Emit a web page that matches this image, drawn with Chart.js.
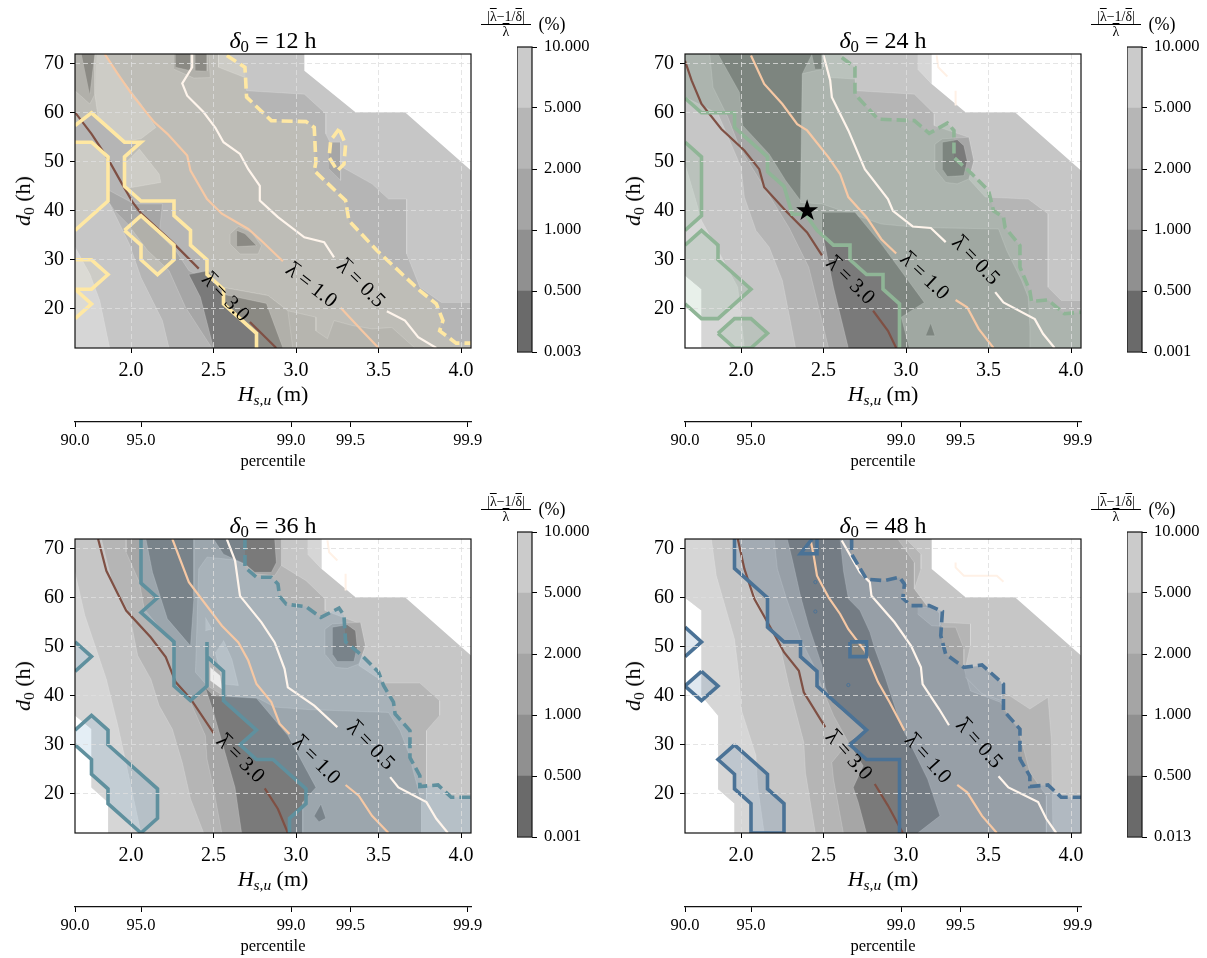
<!DOCTYPE html>
<html lang="en">
<head>
<meta charset="utf-8" />
<title>Contours of lambda error</title>
<script src="https://cdn.jsdelivr.net/npm/chart.js@4/dist/chart.umd.js"></script>
<style type="text/css">
  body { margin: 0; background: #fff; font-family: "Liberation Serif", serif; color: #000; }
  #page { position: relative; width: 1207px; height: 958px; overflow: hidden; }
  canvas { position: absolute; }
  .txt { position: absolute; white-space: nowrap; transform: translate(-50%, -50%); line-height: 1; }
  .rot { transform: translate(-50%, -50%) rotate(-90deg); }
  .txt sub { font-size: 70%; line-height: 0; vertical-align: -0.25em; }
  .frac { position: absolute; width: 50px; text-align: center; font-size: 14px; line-height: 14px; }
  .frac div:first-child { border-bottom: 1px solid #000; }
  .bar { text-decoration: overline; }
</style>
</head>
<body>
<div id="page"></div>

<script>
// ---- axes and labels ----
const xTicks = [2.0, 2.5, 3.0, 3.5, 4.0];
const yTicks = [20, 30, 40, 50, 60, 70];
const pctPositions = [1.66, 2.06, 2.97, 3.33, 4.04];
const pctLabels = ['90.0', '95.0', '99.0', '99.5', '99.9'];
const deltaLabels = ['12', '24', '36', '48'];
const lamLabels = ['3.0', '1.0', '0.5'];

const cbA = ['0.003', '0.500', '1.000', '2.000', '5.000', '10.000'];
const cbB = ['0.001', '0.500', '1.000', '2.000', '5.000', '10.000'];
const cbC = ['0.001', '0.500', '1.000', '2.000', '5.000', '10.000'];
const cbD = ['0.013', '0.500', '1.000', '2.000', '5.000', '10.000'];

// ---- delta0 = 12 h ----
const domainA = [[1.66,12],[1.66,72],[3.05,72],[3.05,68.6],[3.36,60.1],[3.66,60.1],[4.06,48.2],[4.06,12]];
const g0A = [[[1.66,32.6],[1.75,27.1],[1.81,21.7],[1.87,12],[1.66,12]]];
const g2A = [[[1.66,72],[2.53,72],[2.53,69.3],[2.69,67.2],[2.70,64.5],[3.05,63.8],[3.18,59.8],[3.18,55.7],[3.28,48.9],[3.46,45.5],[3.56,42.4],[3.67,42.4],[3.67,31.2],[3.75,24.4],[3.88,21.3],[4.06,21.3],[4.06,12],[2.23,12],[2.19,17.6],[2.06,26.4],[1.99,33.2],[1.90,39.4],[1.86,42.1],[1.66,36],[1.66,72]]];
const softA = [[[2.55,24.4],[2.83,22.7],[2.95,19.6],[3.12,18.3],[3.12,15.5],[3.19,13.9],[3.23,17.6],[3.34,16.6],[3.46,15.9],[3.58,16.2],[3.72,12],[2.90,12]]];
const g3A = [
  [[1.80,45.1],[1.87,44.1],[2.02,41.4],[2.19,41.4],[2.17,35.3],[2.27,31.9],[2.35,27.8],[2.55,24.4],[2.83,22.7],[2.95,19.6],[2.98,12],[2.49,12],[2.33,20.3],[2.23,27.8],[2.10,31.9],[1.98,37.3],[1.90,40],[1.80,45.1]],
  [[2.26,72],[2.47,72],[2.48,67.2],[2.38,67.1],[2.26,68.9]],
  [[1.66,72],[1.78,72],[1.78,63.8],[1.75,61.8],[1.66,64.5]],
  [[2.60,35.3],[2.65,36.8],[2.73,35.6],[2.79,32.9],[2.77,31.2],[2.66,31.2],[2.60,33.2],[2.60,35.3]],
  [[3.20,54],[3.27,54],[3.27,46.2],[3.20,48.5]]
];
const g4A = [
  [[2.35,27],[2.47,27.8],[2.55,23],[2.82,21.1],[2.92,12],[2.50,12],[2.42,22.4],[2.35,27]],
  [[2.27,72],[2.36,72],[2.36,68.6],[2.27,69.3]],
  [[2.39,72],[2.46,72],[2.46,68.5],[2.39,68.6]],
  [[1.70,72],[1.78,72],[1.75,63.8]],
  [[2.64,36],[2.69,35.3],[2.76,32.9],[2.64,32.7],[2.64,36]]
];
const lightA = [
  [[1.79,72],[1.84,72],[1.92,67.9],[2.06,61.8],[2.15,57],[2.06,54.7],[1.96,54.2],[1.80,59.1],[1.78,63.8]],
  [[1.96,49.6],[2.05,52.6],[2.17,47.5],[2.18,45.8],[1.96,44.5]],
  [[1.66,54],[1.76,54],[1.86,51],[1.86,42],[1.66,36]]
];
const solidA = [[1.66,57.4],[1.76,60],[1.96,54],[2.06,54],[1.96,51],[1.96,45],[2.06,42],[2.26,42],[2.26,39],[2.36,36],[2.36,33],[2.46,30],[2.46,27],[2.56,24],[2.56,21],[2.76,15],[2.76,12]];
const dashA = [[2.58,71.7],[2.69,69.3],[2.70,63.2],[2.85,58.4],[3.06,58.2],[3.11,57],[3.12,49.9],[3.11,48.2],[3.30,42.1],[3.32,38],[3.49,31.9],[3.75,23.7],[3.85,21],[3.89,17.6],[3.87,15.5],[3.97,13],[4.06,13]];
const ringA = [[3.26,56.7],[3.21,54.4],[3.20,50.9],[3.25,48.2],[3.29,49.5],[3.30,53.6],[3.26,56.7]];
const islandsA = [
  [[1.66,54],[1.76,54],[1.86,51],[1.86,42],[1.66,36]],
  [[1.96,36],[2.06,39],[2.26,33],[2.26,30],[2.16,27],[2.06,30],[2.06,33],[1.96,36]],
  [[1.66,30],[1.76,30],[1.86,27],[1.76,24],[1.66,24]],
  [[1.66,24],[1.76,21],[1.66,18]]
];
const lam3A = [[[1.66,60.1],[1.76,55.7],[1.86,50.6],[1.94,45.8],[2.01,41.7],[2.06,39.5],[2.25,33.6],[2.41,28.2]], [[2.72,17.3],[2.88,12]]];
const lam1A = [[[1.84,72],[1.92,67.9],[2.01,63.5],[2.14,58.1],[2.22,55.7],[2.34,51.3],[2.36,48.2],[2.46,42.4],[2.55,39.4],[2.71,36.3],[2.79,33.9],[2.92,29.7]], [[3.27,20.2],[3.40,15.5],[3.50,12]]];
const lam05A = [[[2.37,72],[2.37,69.3],[2.31,66],[2.34,63.5],[2.44,60.1],[2.51,57],[2.56,54],[2.66,51.6],[2.71,48.5],[2.78,45.1],[2.78,42.1],[2.89,38.7],[3.05,34.6],[3.17,33.6],[3.23,30.5]], [[3.55,19.5],[3.66,17.6],[3.74,14.2],[3.85,12]]];
const labelsA = [[2.57,22.3],[3.09,24.7],[3.39,25.1]];
const anglesA = [46, 38, 45];

// ---- delta0 = 24 h ----
const domainB = [[1.66,72],[3.155,72],[3.155,65.9],[3.36,60.1],[3.66,60.1],[4.06,48.2],[4.06,12],[1.76,12],[1.76,24],[1.66,26.8]];
const g0B = [
  [[1.66,49.6],[1.72,42.8],[1.76,38],[1.86,31.9],[1.98,24.4],[2.02,12],[1.76,12],[1.76,24],[1.66,26.8]],
  [[3.07,72],[3.155,72],[3.155,65.9],[3.07,68.9]]
];
const g2B = [[[1.66,72],[2.50,72],[2.53,67.2],[2.69,66.9],[2.70,64.5],[3.05,63.8],[3.17,59.8],[3.17,57.4],[3.38,55],[3.41,50.2],[3.38,46.5],[3.48,42.8],[3.74,42.4],[3.86,39.4],[3.86,24.4],[3.94,21.7],[4.06,21.7],[4.06,12],[2.33,12],[2.29,19],[2.25,25.8],[2.17,32.6],[2.09,36],[2.02,42.8],[2.00,48.9],[1.86,59.8],[1.66,63.2],[1.66,72]]];
const g3B = [
  [[1.81,72],[1.83,65.2],[1.92,59.1],[1.99,53],[2.14,44.8],[2.29,36.6],[2.41,28.5],[2.47,20.3],[2.53,12],[3.75,12],[3.75,16.2],[3.74,22.4],[3.70,25.8],[3.61,31.9],[3.56,36.3],[3.07,36.6],[2.85,37.3],[2.55,40.7],[2.49,41.4],[2.36,41.7],[2.36,67.9],[2.49,68.9],[2.49,72]],
  [[3.175,53.6],[3.22,54.7],[3.38,55],[3.41,50.2],[3.38,46.5],[3.31,45.5],[3.24,45.8],[3.175,48.5],[3.175,53.6]]
];
const g4B = [
  [[1.86,72],[2.43,72],[2.37,67.9],[2.36,42.1],[2.27,46.2],[2.17,51.6],[2.01,57.4],[1.99,64.2],[1.86,72]],
  [[2.43,72],[2.49,72],[2.49,68.9],[2.45,68.9]],
  [[2.49,39.7],[2.69,39.7],[2.85,33.2],[3.11,21.3],[2.97,18.3],[3.02,12],[2.65,12],[2.56,24.4],[2.49,36],[2.49,39.7]],
  [[3.22,54],[3.31,54.5],[3.35,53.3],[3.37,50.2],[3.35,47.2],[3.25,47],[3.22,48.5],[3.22,54]],
  [[3.12,14.5],[3.175,14.5],[3.15,17]]
];
const solidB = [[1.66,63],[1.76,60],[1.96,60],[1.96,57],[2.16,51],[2.16,48],[2.26,45],[2.31,39.3],[2.39,39.3],[2.46,36],[2.56,33],[2.66,33],[2.66,30],[2.76,27],[2.86,27],[2.86,24],[2.96,21],[2.96,12]];
const dashB = [[2.61,71.3],[2.69,69.3],[2.69,63.8],[2.83,58.7],[3.05,58.4],[3.14,55.8],[3.25,57.9],[3.29,56.4],[3.29,50.9],[3.40,47.5],[3.50,44.1],[3.53,40],[3.59,38.7],[3.60,36.6],[3.69,32.9],[3.69,28.5],[3.75,23.7],[3.76,21.5],[3.86,21.8],[3.96,19],[4.06,19.3]];
const islandsB = [
  [[1.66,54],[1.76,51],[1.76,39],[1.66,36]],
  [[1.66,33],[1.76,36],[1.86,33],[1.86,30],[2.06,24],[1.86,18],[1.76,18],[1.66,21]],
  [[1.86,15],[1.96,18],[2.06,18],[2.16,15],[2.06,12],[1.96,12],[1.86,15]]
];
const lam3B = [[[1.66,70.6],[1.70,66.6],[1.76,61.8],[1.88,56.7],[2.02,52.3],[2.11,48.5],[2.14,44.8],[2.27,40],[2.40,35.6],[2.49,30.9]], [[2.80,19.6],[2.89,15.5],[2.94,12]]];
const lam1B = [[[2.06,71.7],[2.14,65.9],[2.25,61.8],[2.34,57.7],[2.40,56.4],[2.53,50.9],[2.60,47.5],[2.65,42.8],[2.76,38.7],[2.85,34.2],[2.94,31.3]], [[3.30,21.8],[3.37,20.3],[3.44,15.9],[3.53,12]]];
const lam05B = [[[2.50,71.7],[2.54,66.6],[2.55,63.2],[2.65,56.4],[2.75,48.5],[2.89,42.4],[2.92,40],[3.04,36.8],[3.15,36.5],[3.24,33.6]], [[3.54,23.4],[3.59,21.3],[3.78,17.9],[3.83,14.9],[3.90,12]]];
const ghostB = [[[3.185,71.7],[3.195,69.3],[3.25,67.4]], [[3.30,64.5],[3.30,61.5]]];
const labelsB = [[2.66,25.7],[3.11,26.6],[3.42,29.8]];
const anglesB = [44, 43, 46];
const starB = [2.4, 40];

// ---- delta0 = 36 h ----
const domainC = [[1.66,72],[3.155,72],[3.155,65.9],[3.36,60.1],[3.66,60.1],[4.06,48.2],[4.06,12],[1.86,12],[1.86,18.3],[1.76,21.3],[1.76,33.2],[1.66,36]];
const g0C = [
  [[1.66,65.2],[1.72,56.4],[1.85,43.4],[1.92,33.9],[1.99,23],[2.06,12],[1.86,12],[1.86,18.3],[1.76,21.3],[1.76,33.2],[1.66,36]],
  [[3.07,72],[3.155,72],[3.155,65.9],[3.07,68.9]]
];
const g2C = [[[1.82,72],[2.87,72],[2.91,66.6],[3.06,63.5],[3.175,59.8],[3.175,57.4],[3.39,54.7],[3.42,50.2],[3.38,46.2],[3.54,42.6],[3.75,42.6],[3.87,39],[3.87,36],[3.79,32.9],[3.79,19],[3.76,18.3],[3.76,12],[2.44,12],[2.36,19],[2.31,26.4],[2.25,33.2],[2.17,38],[2.12,43.4],[2.04,48.2],[1.99,56.7],[1.88,63.8],[1.82,72]]];
const g3C = [
  [[1.97,72],[1.97,69.3],[2.05,63.2],[2.08,57.7],[2.26,50.2],[2.27,42.8],[2.36,38.7],[2.45,31.9],[2.46,27.1],[2.50,21],[2.55,12],[3.76,12],[3.76,18.3],[3.68,28.5],[3.63,32.9],[3.56,36.6],[3.07,37.2],[2.87,37.7],[2.77,39.5],[2.56,40],[2.46,42.1],[2.39,44.8],[2.41,65.9],[2.46,68.3],[2.61,67.8],[2.69,66.9],[2.75,64.9],[2.87,64.5],[2.91,66.6],[2.91,72]],
  [[3.175,53.6],[3.22,54.7],[3.39,55],[3.42,50.2],[3.38,46.5],[3.31,45.6],[3.24,45.8],[3.175,48.5],[3.175,53.6]]
];
const g4C = [
  [[2.50,72],[2.87,72],[2.88,67.2],[2.85,65.2],[2.75,65.2],[2.69,66.9],[2.56,68.9],[2.50,72]],
  [[2.09,72],[2.38,72],[2.38,59.8],[2.36,50.2],[2.22,55.7],[2.13,65.2],[2.09,72]],
  [[2.45,41.7],[2.50,40],[2.76,39.5],[2.95,31.9],[3.12,21.3],[3.04,18.3],[3.04,12],[2.67,12],[2.63,21.3],[2.50,36.6],[2.45,41.7]],
  [[3.22,54],[3.31,54.5],[3.36,53.3],[3.37,49.9],[3.35,47],[3.25,47],[3.22,48.5],[3.22,54]],
  [[3.11,15.5],[3.15,17.9],[3.18,15],[3.14,14.3]]
];
const lightC = [
  [[2.56,51.3],[2.61,47.5],[2.65,42.1],[2.56,42.4],[2.51,48.9]],
  [[2.45,56],[2.49,53.6],[2.45,53.3]]
];
const paleC = [[[2.48,45.8],[2.54,44.1],[2.55,41.4],[2.48,43.1]]];
const solidC = [[2.06,72],[2.06,63],[2.16,60],[2.06,57],[2.26,51],[2.26,42],[2.36,39],[2.46,42],[2.46,51],[2.46,48],[2.56,45],[2.56,39],[2.76,33],[2.66,30],[2.76,27],[2.86,27],[3.06,21],[3.06,18],[2.96,15],[2.96,12]];
const dashC = [[2.69,72],[2.69,66.2],[2.76,64.2],[2.85,64.2],[2.89,62.8],[2.90,60.3],[2.94,58.7],[3.06,58.2],[3.15,56],[3.26,57.9],[3.29,56.4],[3.30,51],[3.40,48.2],[3.50,44.8],[3.53,42.1],[3.59,38.7],[3.60,36.3],[3.69,32.9],[3.69,27.4],[3.75,23.7],[3.75,21.5],[3.86,21.8],[3.94,19.3],[4.06,19.3]];
const islandsC = [
  [[1.66,51],[1.76,48],[1.66,45]],
  [[1.66,33],[1.76,36],[1.86,33],[1.86,30],[2.16,21],[2.16,15],[2.06,12],[1.86,18],[1.86,21],[1.76,24],[1.76,27],[1.66,30]]
];
const lam3C = [[[1.80,72],[1.85,65.5],[1.97,57.4],[2.12,51.9],[2.21,47.9],[2.27,42.8],[2.36,39.4],[2.50,32.4]], [[2.81,21.1],[2.89,16.9],[2.95,12]]];
const lam1C = [[[2.25,72],[2.35,63.2],[2.55,54.3],[2.65,50.9],[2.71,47.2],[2.76,42.4],[2.85,38.7],[2.90,34.3],[2.96,32.2]], [[3.30,21.8],[3.38,19.6],[3.46,15.5],[3.56,12]]];
const lam05C = [[[2.58,72],[2.63,67.6],[2.66,60.4],[2.79,55],[2.87,50.9],[2.93,45.5],[2.95,41.7],[3.11,38],[3.25,33.6]], [[3.57,23.4],[3.62,21.3],[3.79,18.3],[3.85,14.9],[3.92,12]]];
const ghostC = [[[3.19,71.7],[3.20,69.3],[3.25,67.6]], [[3.30,64.9],[3.30,61.5]]];
const labelsC = [[2.66,27.1],[3.12,26.8],[3.45,29.8]];
const anglesC = [45, 45, 46];

// ---- delta0 = 48 h ----
const domainD = [[1.66,72],[3.155,72],[3.155,65.9],[3.36,60.1],[3.66,60.1],[4.06,48.2],[4.06,12],[1.96,12],[1.96,18],[1.86,21],[1.86,36],[1.76,40],[1.76,57.4],[1.66,60]];
const g0D = [[[1.82,72],[1.85,64.5],[1.96,51.6],[1.99,43.4],[2.00,37.3],[2.09,27.8],[2.10,21.7],[2.14,12],[1.96,12],[1.96,18],[1.86,21],[1.86,36],[1.76,40],[1.76,57.4],[1.66,60],[1.66,72]]];
const g2D = [[[1.98,72],[3.0,72],[3.09,68.9],[3.09,65.9],[3.05,61.8],[3.205,55],[3.39,54.7],[3.39,50.2],[3.36,45.8],[3.61,40.4],[3.75,37.3],[3.86,39.7],[3.88,31.2],[3.89,12],[2.45,12],[2.39,24.4],[2.38,30.5],[2.29,42.1],[2.24,49.6],[2.14,56.4],[2.01,65.9],[1.98,72]]];
const g3D = [[[2.20,72],[2.95,72],[3.05,67.2],[3.05,61.8],[3.22,54],[3.30,54],[3.35,49.6],[3.35,45.8],[3.39,41],[3.57,38.7],[3.68,33.2],[3.75,24.4],[3.85,19.6],[3.85,12],[2.62,12],[2.56,23],[2.55,26.4],[2.65,30.5],[2.56,36],[2.51,40],[2.44,46.2],[2.36,51.6],[2.27,60.4],[2.22,65.9],[2.20,72]]];
const g4D = [[[2.28,72],[2.60,72],[2.62,65.5],[2.65,59.8],[2.72,57.4],[2.78,53],[2.81,49.6],[2.87,44.1],[2.97,33.9],[3.05,28.5],[3.13,23],[3.205,15.5],[3.07,12],[2.76,12],[2.71,18.3],[2.68,21.3],[2.74,25.7],[2.65,30.5],[2.76,32.9],[2.55,38.7],[2.51,41.7],[2.49,46.2],[2.41,54.3],[2.36,60.4],[2.31,67.9],[2.28,72]]];
const midD = [
  [[3.07,58.1],[3.17,58.1],[3.205,56.7],[3.205,54.2],[3.155,54.3],[3.07,56.7]],
  [[3.36,45.8],[3.46,46.2],[3.58,42.8],[3.58,39],[3.46,40.4],[3.36,43.8]]
];
const holeD = [[2.66,51],[2.76,51],[2.76,48],[2.66,48]];
const solidD = [[1.96,72],[1.96,66],[2.16,60],[2.16,54],[2.26,51],[2.36,51],[2.36,48],[2.46,45],[2.46,42],[2.76,33],[2.66,30],[2.76,27],[2.96,27],[2.96,12]];
const dashD = [[2.67,72],[2.67,68.9],[2.76,63.8],[2.87,63.5],[2.96,64.2],[2.99,62.8],[2.98,59.9],[3.03,58.4],[3.14,58.4],[3.22,57.2],[3.21,52.3],[3.24,48.5],[3.35,45.8],[3.46,46.3],[3.59,42.4],[3.59,37],[3.69,33.2],[3.69,27.1],[3.75,23.6],[3.75,21.5],[3.86,21.8],[3.94,19.3],[4.06,19.3]];
const islandsD = [
  [[1.66,54],[1.76,51],[1.66,48]],
  [[1.76,45],[1.86,42],[1.76,39],[1.66,42],[1.76,45]],
  [[1.96,30],[2.16,24],[2.16,21],[2.26,18],[2.26,12],[2.06,12],[2.06,18],[1.96,21],[1.96,24],[1.86,27],[1.96,30]],
  [[2.46,72],[2.46,69],[2.36,69],[2.43,72]]
];
const squareD = [[2.66,51],[2.76,51],[2.76,48],[2.66,48],[2.66,51]];
const dotsD = [[2.45,63.2],[2.45,57.2],[2.65,42.2]];
const lam3D = [[[1.98,72],[2.02,65.9],[2.08,59.8],[2.20,52.6],[2.26,48.9],[2.35,45.1],[2.38,40.7],[2.51,33.6]], [[2.81,22],[2.89,17.6],[2.98,12]]];
const lam1D = [[[2.42,72],[2.44,68.6],[2.46,64.5],[2.53,60.1],[2.60,56.7],[2.65,53.6],[2.75,49.2],[2.83,42.8],[2.90,38.7],[2.99,32.9]], [[3.31,21.8],[3.37,20.3],[3.46,15.5],[3.55,12]]];
const lam05D = [[[2.61,71.7],[2.72,65.2],[2.78,63.2],[2.79,60.4],[2.93,55],[3.03,50.2],[3.09,45.8],[3.10,42.4],[3.20,37.3],[3.26,34]], [[3.56,23.6],[3.62,21.3],[3.80,18.3],[3.85,14.9],[3.91,12]]];
const ghostD = [[[3.30,67.2],[3.30,66.2],[3.35,64.5],[3.55,64.5],[3.59,63.3]]];
const labelsD = [[2.65,27.8],[3.13,27.1],[3.44,30.2]];
const anglesD = [48, 48, 48];

// ---- styles ----
const grays = ['#d6d6d6', '#c6c6c6', '#b5b5b5', '#a6a6a6', '#7a7a7a'];
const softGray = '#acacac';
const cbColors = ['#6a6a6a', '#909090', '#a5a5a5', '#b6b6b6', '#cbcbcb'];
const serif = 'Liberation Serif';
const page = document.getElementById('page');

Chart.defaults.font.family = serif;
Chart.defaults.color = '#000';
Chart.defaults.animation = false;

function pts(list) {
  return list.map(function (p) { return { x: p[0], y: p[1] }; });
}

function area(list, color, edge) {
  return {
    data: pts(list), showLine: true, fill: 'shape', backgroundColor: color,
    borderColor: edge ? 'rgba(255,255,255,0.16)' : 'rgba(0,0,0,0)', borderWidth: edge ? 1 : 0, pointRadius: 0
  };
}

function line(list, color, width, dash) {
  return {
    data: pts(list), showLine: true, fill: false, borderColor: color, borderWidth: width,
    borderDash: dash || [], pointRadius: 0, backgroundColor: color
  };
}

function addText(html, x, y, size, cls) {
  var d = document.createElement('div');
  d.className = 'txt ' + (cls || '');
  d.innerHTML = html;
  d.style.left = x + 'px';
  d.style.top = y + 'px';
  d.style.fontSize = size + 'px';
  page.appendChild(d);
}

function addCanvas(x, y, w, h) {
  var c = document.createElement('canvas');
  c.width = w;
  c.height = h;
  c.style.left = x + 'px';
  c.style.top = y + 'px';
  page.appendChild(c);
  return c;
}

// box round the axes
const framePlugin = {
  id: 'frame',
  afterDraw: function (chart) {
    var a = chart.chartArea, g = chart.ctx;
    g.save();
    g.strokeStyle = '#111';
    g.lineWidth = 1.2;
    g.strokeRect(a.left, a.top, a.right - a.left, a.bottom - a.top);
    g.restore();
  }
};

// inline contour labels and the star go above the grid, placed through the scales
const lamPlugin = {
  id: 'lamLabels',
  afterDraw: function (chart, args, opts) {
    var g = chart.ctx;
    opts.places.forEach(function (p, i) {
      g.save();
      g.translate(chart.scales.x.getPixelForValue(p[0]), chart.scales.y.getPixelForValue(p[1]));
      g.rotate(opts.angles[i] * Math.PI / 180);
      g.font = '21px "' + serif + '"';
      g.fillStyle = '#000';
      g.textAlign = 'left';
      g.textBaseline = 'middle';
      var text = '\u03bb = ' + lamLabels[i];
      var w = g.measureText(text).width, lw = g.measureText('\u03bb').width;
      g.fillText(text, -w / 2, 0);
      g.fillRect(-w / 2 + 1, -10, lw - 1, 1);
      g.restore();
    });
    if (opts.star) {
      var sx = chart.scales.x.getPixelForValue(opts.star[0]), sy = chart.scales.y.getPixelForValue(opts.star[1]);
      g.save();
      g.beginPath();
      for (var i = 0; i < 10; i++) {
        var r = i % 2 ? 4.4 : 11.5, a = -Math.PI / 2 + i * Math.PI / 5;
        g.lineTo(sx + r * Math.cos(a), sy + r * Math.sin(a));
      }
      g.closePath();
      g.fillStyle = '#000';
      g.fill();
      g.restore();
    }
  }
};

function drawPanel(p) {
  var sets = [];   // painter's order, reversed below since Chart.js draws the first set last
  sets.push(area(p.domain, grays[1]));
  p.g0.forEach(function (s) { sets.push(area(s, grays[0], true)); });
  p.g2.forEach(function (s) { sets.push(area(s, grays[2], true)); });
  (p.soft || []).forEach(function (s) { sets.push(area(s, softGray, true)); });
  p.g3.forEach(function (s) { sets.push(area(s, grays[3], true)); });
  p.g4.forEach(function (s) { sets.push(area(s, grays[4], true)); });
  (p.light || []).forEach(function (s) { sets.push(area(s, grays[1], true)); });
  (p.mid || []).forEach(function (s) { sets.push(area(s, grays[2], true)); });
  (p.pale || []).forEach(function (s) { sets.push(area(s, '#ececec', true)); });

  sets.push(area(p.tint, p.tintColor));
  p.islands.forEach(function (s) { sets.push(area(s, p.tintColor)); });
  if (p.hole) sets.push(area(p.hole, '#84847f'));

  (p.ghost || []).forEach(function (s) { sets.push(line(s, '#fff1e6', 2)); });
  p.lam3.forEach(function (s) { sets.push(line(s, '#7f5044', 2.2)); });
  p.lam1.forEach(function (s) { sets.push(line(s, '#f6c8a4', 2.2)); });
  p.lam05.forEach(function (s) { sets.push(line(s, '#fff5ec', 2.2)); });

  sets.push(line(p.solid, p.color, 3.6));
  sets.push(line(p.dash, p.color, 3.6, [11, 5]));
  (p.extraDash || []).forEach(function (s) { sets.push(line(s, p.color, 3.6, [11, 5])); });
  p.islands.forEach(function (s) { sets.push(line(s, p.color, 3.6)); });
  (p.extraSolid || []).forEach(function (s) { sets.push(line(s, p.color, 3.6)); });

  if (p.dots) {
    sets.push({ data: pts(p.dots), pointRadius: 1.6, pointBackgroundColor: 'rgba(0,0,0,0)', pointBorderColor: p.color, pointBorderWidth: 1 });
  }
  sets.reverse();

  var c = addCanvas(p.left - 60, p.top - 10, 60 + 396 + 22, 10 + 294 + 74 + 44);
  new Chart(c.getContext('2d'), {
    type: 'scatter',
    data: { datasets: sets },
    plugins: [framePlugin, lamPlugin],
    options: {
      responsive: false,
      layout: { padding: { top: 10, right: 22, left: 0, bottom: 0 } },
      plugins: {
        legend: { display: false }, tooltip: { enabled: false }, title: { display: false },
        lamLabels: { places: p.labels, angles: p.angles, star: p.star }
      },
      scales: {
        x: {
          type: 'linear', position: 'bottom', min: 1.66, max: 4.06, weight: 0,
          afterBuildTicks: function (s) { s.ticks = xTicks.map(function (v) { return { value: v }; }); },
          afterFit: function (s) { s.height = 74; },
          ticks: { font: { size: 20 }, padding: 6, maxRotation: 0, autoSkip: false, callback: function (v) { return v.toFixed(1); } },
          grid: { z: 1, color: 'rgba(222,222,222,0.8)', lineWidth: 1, tickLength: 5, tickColor: '#000' },
          border: { display: false, dash: [5, 3] }
        },
        y: {
          type: 'linear', position: 'left', min: 12, max: 72,
          afterBuildTicks: function (s) { s.ticks = yTicks.map(function (v) { return { value: v }; }); },
          afterFit: function (s) { s.width = 60; s.paddingTop = 0; s.paddingBottom = 0; },
          ticks: { font: { size: 20 }, padding: 6, autoSkip: false },
          grid: { z: 1, color: 'rgba(222,222,222,0.8)', lineWidth: 1, tickLength: 5, tickColor: '#000' },
          border: { display: false, dash: [5, 3] }
        },
        pct: {
          type: 'linear', axis: 'x', position: 'bottom', min: 1.66, max: 4.06, weight: 1,
          afterBuildTicks: function (s) { s.ticks = pctPositions.map(function (v) { return { value: v }; }); },
          afterFit: function (s) { s.height = 44; },
          ticks: { font: { size: 16.5 }, padding: 4, maxRotation: 0, autoSkip: false, callback: function (v, i) { return pctLabels[i]; } },
          grid: { drawOnChartArea: false, tickLength: 5, tickColor: '#000' },
          border: { display: true, color: '#111', width: 1.2 }
        }
      }
    }
  });

  // math labels
  var cx = p.left + 198;
  addText('<i>\u03b4</i><sub>0</sub> = ' + p.delta + ' h', cx, p.top - 14, 24);
  addText('<i>H</i><sub><i>s,u</i></sub> (m)', cx, p.top + 340, 22);
  addText('<i>d</i><sub>0</sub> (h)', p.left - 52, p.top + 147, 22, 'rot');
  addText('percentile', cx, p.top + 407, 16.5);

  drawColorbar(p);
}

function drawColorbar(p) {
  var cbLeft = p.left + 442, cbTop = p.top - 7;
  var sets = cbColors.map(function (col) {
    return { data: [1], backgroundColor: col, barPercentage: 1, categoryPercentage: 1, borderWidth: 0 };
  });
  var c = addCanvas(cbLeft, cbTop - 10, 15 + 62, 305 + 20);
  new Chart(c.getContext('2d'), {
    type: 'bar',
    data: { labels: [''], datasets: sets },
    plugins: [framePlugin],
    options: {
      responsive: false,
      layout: { padding: { top: 10, bottom: 10, left: 0, right: 0 } },
      plugins: { legend: { display: false }, tooltip: { enabled: false } },
      scales: {
        x: { stacked: true, display: false },
        y: {
          stacked: true, position: 'right', min: 0, max: 5,
          afterBuildTicks: function (s) { s.ticks = p.levels.map(function (v, i) { return { value: i }; }); },
          afterFit: function (s) { s.width = 62; s.paddingTop = 0; s.paddingBottom = 0; },
          ticks: { font: { size: 16.5 }, padding: 7, autoSkip: false, callback: function (v, i) { return p.levels[i]; } },
          grid: { drawOnChartArea: false, tickLength: 5, tickColor: '#000' },
          border: { display: false }
        }
      }
    }
  });

  var f = document.createElement('div');
  f.className = 'frac';
  f.style.left = (p.left + 406) + 'px';
  f.style.top = (p.top - 44) + 'px';
  f.innerHTML = '<div>|<span class="bar">\u03bb</span>\u22121/<span class="bar">\u03b4</span>|</div><div><span class="bar">\u03bb</span></div>';
  page.appendChild(f);
  addText('(%)', p.left + 477, p.top - 30, 18);
}

drawPanel({
  left: 75, top: 54, delta: deltaLabels[0], levels: cbA, color: '#ffe8a3', tintColor: 'rgba(255,245,200,0.13)',
  domain: domainA, g0: g0A, g2: g2A, soft: softA, g3: g3A, g4: g4A, light: lightA,
  tint: [[1.66,72],[2.58,72]].concat(dashA, [[4.06,12]], solidA.slice().reverse()),
  islands: islandsA, solid: solidA, dash: dashA, extraDash: [ringA],
  lam3: lam3A, lam1: lam1A, lam05: lam05A, labels: labelsA, angles: anglesA
});
drawPanel({
  left: 685, top: 54, delta: deltaLabels[1], levels: cbB, color: '#8fb596', tintColor: 'rgba(140,180,150,0.2)',
  domain: domainB, g0: g0B, g2: g2B, g3: g3B, g4: g4B,
  tint: [[1.66,72],[2.61,72]].concat(dashB, [[4.06,12]], solidB.slice().reverse()),
  islands: islandsB, solid: solidB, dash: dashB, ghost: ghostB, star: starB,
  lam3: lam3B, lam1: lam1B, lam05: lam05B, labels: labelsB, angles: anglesB
});
drawPanel({
  left: 75, top: 539, delta: deltaLabels[2], levels: cbC, color: '#5f909e', tintColor: 'rgba(120,170,205,0.2)',
  domain: domainC, g0: g0C, g2: g2C, g3: g3C, g4: g4C, light: lightC, pale: paleC,
  tint: [[2.06,72],[2.69,72]].concat(dashC, [[4.06,12]], solidC.slice().reverse()),
  islands: islandsC, solid: solidC, dash: dashC, ghost: ghostC,
  lam3: lam3C, lam1: lam1C, lam05: lam05C, labels: labelsC, angles: anglesC
});
drawPanel({
  left: 685, top: 539, delta: deltaLabels[3], levels: cbD, color: '#4a7296', tintColor: 'rgba(95,135,175,0.2)',
  domain: domainD, g0: g0D, g2: g2D, g3: g3D, g4: g4D, mid: midD, hole: holeD,
  tint: [[1.96,72],[2.67,72]].concat(dashD, [[4.06,12]], solidD.slice().reverse()),
  islands: islandsD, solid: solidD, dash: dashD, extraSolid: [squareD], ghost: ghostD, dots: dotsD,
  lam3: lam3D, lam1: lam1D, lam05: lam05D, labels: labelsD, angles: anglesD
});
</script>
</body>
</html>
